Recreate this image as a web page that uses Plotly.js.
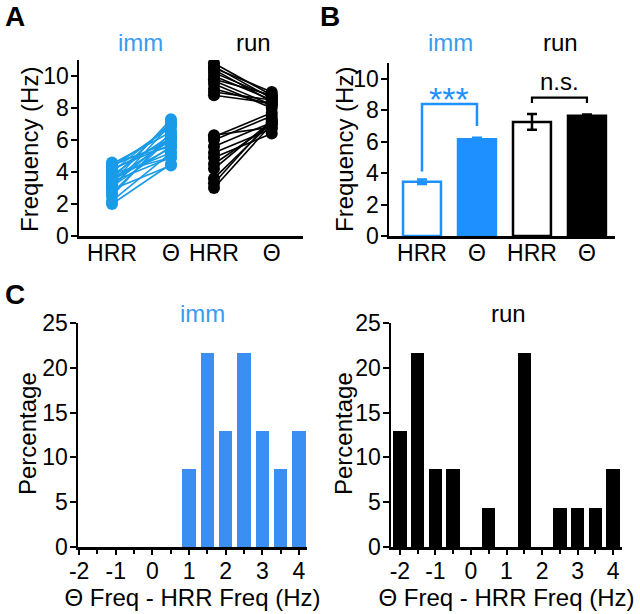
<!DOCTYPE html>
<html>
<head>
<meta charset="utf-8">
<script src="https://cdn.plot.ly/plotly-3.0.1.min.js"></script>
<style>html,body{margin:0;padding:0;background:#fff;}#chart{width:640px;height:614px;}</style>
</head>
<body>
<div id="chart"></div>
<script>
// ---------- DATA ----------
// Panel A: paired frequencies (Hz)
const immHRR   = [2.0, 2.2, 2.5, 2.7, 2.9, 3.0, 3.1, 3.2, 3.3, 3.4, 3.5, 3.5, 3.6, 3.7, 3.8, 3.9, 4.0, 4.1, 4.2, 4.3, 4.4, 4.5, 4.6];
const immTheta = [4.5, 5.2, 6.5, 6.2, 4.4, 7.0, 5.6, 6.2, 7.3, 4.9, 6.0, 5.5, 7.1, 5.2, 6.3, 4.9, 7.0, 6.1, 5.7, 6.8, 5.9, 6.5, 5.6];
const runHRR   = [10.8, 10.6, 10.4, 10.5, 10.2, 10.0, 9.7, 9.5, 9.8, 9.2, 9.0, 8.8, 6.3, 4.9, 5.2, 5.6, 6.0, 6.2, 4.5, 4.2, 3.6, 3.0, 3.3];
const runTheta = [8.8, 8.6, 8.4, 9.0, 8.7, 8.5, 8.2, 8.0, 8.8, 8.2, 8.5, 8.3, 6.8, 6.4, 6.7, 7.1, 7.5, 7.7, 7.0, 7.2, 7.1, 7.0, 7.3];
const pairLabels = ["HRR", "Θ", "HRR", "Θ"];

// Panel B: mean ± SEM
const barLabels = ["HRR", "Θ", "HRR", "Θ"];
const barMeans  = [3.45, 6.15, 7.25, 7.65];
const barSEM    = [0.15, 0.10, 0.50, 0.08];

// Panel C: histograms of Θ freq − HRR freq (percentage)
const binCenters = [-2, -1.5, -1, -0.5, 0, 0.5, 1, 1.5, 2, 2.5, 3, 3.5, 4];
const immPct = [0, 0, 0, 0, 0, 0, 8.7, 21.7, 13.0, 21.7, 13.0, 8.7, 13.0];
const runPct = [13.0, 21.7, 8.7, 8.7, 0, 4.35, 0, 21.7, 0, 4.35, 4.35, 4.35, 8.7];
const diffTicks = [-2, -1, 0, 1, 2, 3, 4];
const diffTickText = ["-2", "-1", "0", "1", "2", "3", "4"];
const freqTicks = [0, 2, 4, 6, 8, 10];
const pctTicks = [0, 5, 10, 15, 20, 25];

// ---------- STYLE ----------
const BLUE = "#1e90ff";
const BLUE_C = "#3b8ff2";
const BLUE_A = "#1a9be8";
const BLUE_TXT = "#3a9bf0";
const FONT = "Liberation Sans, Arial, sans-serif";
const FS = 24;     // titles / labels
const TFS = 23;    // tick labels
const W = 640, H = 614;
const px = v => v / W;
const py = v => 1 - v / H;

const posA = [0, 1, 1.73, 2.71];
const posB = [0, 1, 2, 3];

const traces = [];
for (let i = 0; i < immHRR.length; i++) {
  traces.push({type: "scatter", mode: "lines+markers", x: [posA[0], posA[1]], y: [immHRR[i], immTheta[i]],
    xaxis: "x", yaxis: "y", line: {color: BLUE_A, width: 1.6}, marker: {color: BLUE_A, size: 12}, showlegend: false, hoverinfo: "skip"});
}
for (let i = 0; i < runHRR.length; i++) {
  traces.push({type: "scatter", mode: "lines+markers", x: [posA[2], posA[3]], y: [runHRR[i], runTheta[i]],
    xaxis: "x", yaxis: "y", line: {color: "#000", width: 1.6}, marker: {color: "#000", size: 12}, showlegend: false, hoverinfo: "skip"});
}
const barFill = ["#ffffff", BLUE, "#ffffff", "#000000"];
const barLine = [BLUE, BLUE, "#000000", "#000000"];
for (let i = 0; i < barMeans.length; i++) {
  traces.push({type: "bar", x: [posB[i]], y: [barMeans[i]], width: 0.69, xaxis: "x2", yaxis: "y2",
    marker: {color: barFill[i], line: {color: barLine[i], width: 2.5}},
    error_y: {type: "data", array: [barSEM[i]], visible: true, color: barLine[i], thickness: 2.5, width: 5},
    showlegend: false, hoverinfo: "skip"});
}
const immTop = Math.max(barMeans[0], barMeans[1]) + 2.25;
traces.push({type: "scatter", mode: "lines", xaxis: "x2", yaxis: "y2",
  x: [posB[0], posB[0], posB[1], posB[1]],
  y: [barMeans[0] + barSEM[0] + 0.5, immTop, immTop, barMeans[1] + barSEM[1] + 0.75],
  line: {color: BLUE, width: 2.5}, showlegend: false, hoverinfo: "skip"});
const runTop = Math.max(barMeans[2] + barSEM[2], barMeans[3] + barSEM[3]) + 1.05;
traces.push({type: "scatter", mode: "lines", xaxis: "x2", yaxis: "y2",
  x: [posB[2], posB[2], posB[3], posB[3]],
  y: [runTop - 0.35, runTop, runTop, runTop - 0.35],
  line: {color: "#000", width: 2.2}, showlegend: false, hoverinfo: "skip"});
traces.push({type: "bar", x: binCenters, y: immPct, width: 0.37, xaxis: "x3", yaxis: "y3",
  marker: {color: BLUE_C, line: {width: 0}}, showlegend: false, hoverinfo: "skip"});
traces.push({type: "bar", x: binCenters, y: runPct, width: 0.38, xaxis: "x4", yaxis: "y4",
  marker: {color: "#000", line: {width: 0}}, showlegend: false, hoverinfo: "skip"});

const tickFont = {family: FONT, size: TFS, color: "#000"};
const titleFont = {family: FONT, size: FS, color: "#000"};
const baseAxis = {showgrid: false, zeroline: false, showline: true, linecolor: "#000", linewidth: 2.5,
  tickfont: tickFont, ticks: "outside", tickcolor: "#000", tickwidth: 2, ticklen: 6, fixedrange: true};
const yAxisBase = Object.assign({}, baseAxis, {ticklabelstandoff: -3});
const minorC = {dtick: 0.5, tick0: 0, ticks: "outside", ticklen: 4, tickwidth: 2, tickcolor: "#000"};

function label(text, x, y, color, size, extra) {
  return Object.assign({text: text, x: px(x), y: py(y), xref: "paper", yref: "paper", xanchor: "center", yanchor: "middle",
    showarrow: false, font: {family: FONT, size: size || FS, color: color || "#000"}}, extra || {});
}

const layout = {
  width: W, height: H, margin: {l: 0, r: 0, t: 0, b: 0}, paper_bgcolor: "#fff", plot_bgcolor: "rgba(0,0,0,0)",
  showlegend: false, bargap: 0, barmode: "overlay",
  font: {family: FONT},
  xaxis: Object.assign({}, baseAxis, {domain: [px(79), px(303)], range: [-0.56, 3.24], anchor: "y",
    tickvals: posA, ticktext: pairLabels, ticks: "", ticklen: 0, ticklabelstandoff: -5}),
  yaxis: Object.assign({}, yAxisBase, {domain: [py(236), py(60)], range: [0, 11], anchor: "x", tickvals: freqTicks}),
  xaxis2: Object.assign({}, baseAxis, {domain: [px(389), px(615)], range: [-0.6, 3.51], anchor: "y2",
    tickvals: posB, ticktext: barLabels, ticks: "", ticklen: 0, ticklabelstandoff: -5}),
  yaxis2: Object.assign({}, yAxisBase, {domain: [py(236), py(63)], range: [0, 11], anchor: "x2", tickvals: freqTicks}),
  xaxis3: Object.assign({}, baseAxis, {domain: [px(78), px(307)], range: [-2.03, 4.22], anchor: "y3", ticklen: 5,
    tickvals: diffTicks, ticktext: diffTickText, minor: minorC, ticklabelstandoff: -3,
    title: {text: "Θ Freq - HRR Freq (Hz)", font: titleFont, standoff: 0}}),
  yaxis3: Object.assign({}, yAxisBase, {domain: [py(547), py(323)], range: [0, 25], anchor: "x3", tickvals: pctTicks}),
  xaxis4: Object.assign({}, baseAxis, {domain: [px(391), px(622)], range: [-2.25, 4.25], anchor: "y4", ticklen: 5,
    tickvals: diffTicks, ticktext: diffTickText, minor: minorC, ticklabelstandoff: -3,
    title: {text: "Θ Freq - HRR Freq (Hz)", font: titleFont, standoff: 0}}),
  yaxis4: Object.assign({}, yAxisBase, {domain: [py(547), py(323)], range: [0, 25], anchor: "x4", tickvals: pctTicks}),
  annotations: [
    label("<b>A</b>", 15, 16, "#000", 28),
    label("<b>B</b>", 330, 16, "#000", 28),
    label("<b>C</b>", 15, 294, "#000", 28),
    label("imm", 140, 42, BLUE_TXT),
    label("run", 253, 42),
    label("imm", 450, 42, BLUE_TXT),
    label("run", 560, 42),
    label("imm", 202, 313, BLUE_TXT),
    label("run", 508, 313),
    // y-axis titles
    label("Frequency (Hz)", 29, 150, "#000", FS, {textangle: -90}),
    label("Frequency (Hz)", 344, 150, "#000", FS, {textangle: -90}),
    label("Percentage", 27, 434, "#000", FS, {textangle: -90}),
    label("Percentage", 343, 434, "#000", FS, {textangle: -90}),
    {text: "***", x: (posB[0] + posB[1]) / 2, y: immTop - 1.0, xref: "x2", yref: "y2", xanchor: "center", yanchor: "bottom", showarrow: false, font: {family: FONT, size: 34, color: BLUE}},
    {text: "n.s.", x: (posB[2] + posB[3]) / 2, y: runTop + 0.05, xref: "x2", yref: "y2", xanchor: "center", yanchor: "bottom", showarrow: false, font: {family: FONT, size: FS, color: "#000"}}
  ]
};

Plotly.newPlot("chart", traces, layout, {displayModeBar: false, staticPlot: true});
</script>
</body>
</html>
